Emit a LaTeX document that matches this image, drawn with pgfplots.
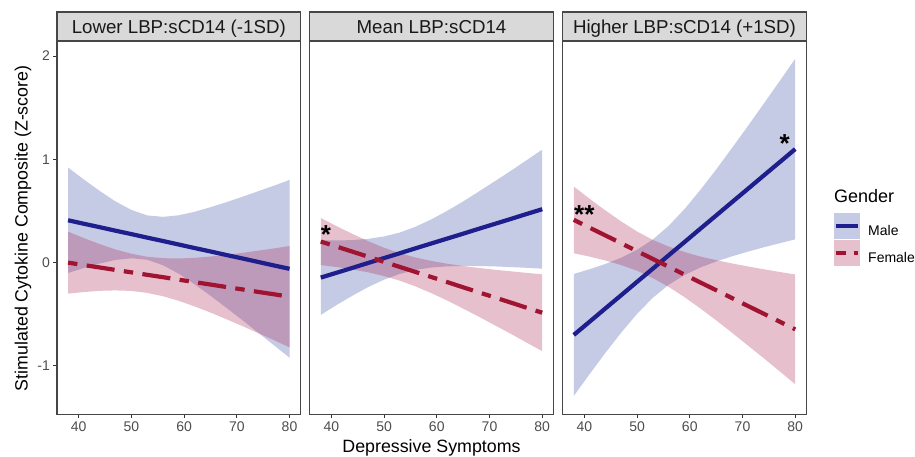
\documentclass[border=0pt]{standalone}
\usepackage{fontspec}
\setmainfont{Liberation Sans}
\usepackage{pgfplots}
\usepackage{pgfplotstable}
\pgfplotsset{compat=1.18}
\usepgfplotslibrary{fillbetween}

\definecolor{maleline}{RGB}{30,30,140}
\definecolor{femline}{RGB}{160,20,50}
\definecolor{malefill}{RGB}{62,78,168}
\definecolor{femfill}{RGB}{172,45,85}
\definecolor{stripgray}{RGB}{217,217,217}
\definecolor{bordergray}{RGB}{70,70,70}
\definecolor{ticktext}{RGB}{77,77,77}

% x = depressive symptoms; m/f = fitted line, u/l = ribbon bounds
\pgfplotstableread{
x  m      mu     ml     f      fu     fl
38  0.410 0.920 -0.100  0.000  0.300 -0.300
41  0.376 0.804 -0.052 -0.024  0.237 -0.285
44  0.343 0.694 -0.008 -0.047  0.179 -0.273
47  0.309 0.592  0.026 -0.071  0.127 -0.269
50  0.276 0.510  0.042 -0.094  0.086 -0.274
53  0.242 0.457  0.028 -0.118  0.057 -0.293
56  0.209 0.443 -0.025 -0.141  0.043 -0.325
59  0.175 0.458 -0.108 -0.165  0.040 -0.370
62  0.141 0.492 -0.210 -0.189  0.046 -0.424
65  0.108 0.536 -0.320 -0.212  0.059 -0.483
68  0.074 0.584 -0.436 -0.236  0.075 -0.547
71  0.041 0.636 -0.554 -0.259  0.094 -0.613
74  0.007 0.690 -0.676 -0.283  0.115 -0.681
77 -0.027 0.744 -0.798 -0.306  0.137 -0.749
80 -0.060 0.800 -0.920 -0.330  0.160 -0.820
}\pone

\pgfplotstableread{
x  m      mu     ml     f      fu     fl
38 -0.145 0.216 -0.506  0.204  0.432 -0.024
41 -0.098 0.214 -0.410  0.155  0.353 -0.043
44 -0.051 0.218 -0.320  0.106  0.278 -0.066
47 -0.003 0.230 -0.236  0.057  0.207 -0.094
50  0.044 0.253 -0.165  0.007  0.144 -0.130
53  0.091 0.291 -0.109 -0.042  0.091 -0.175
56  0.139 0.348 -0.070 -0.091  0.049 -0.231
59  0.186 0.419 -0.047 -0.140  0.016 -0.296
62  0.233 0.502 -0.036 -0.189 -0.011 -0.367
65  0.280 0.592 -0.032 -0.239 -0.033 -0.445
68  0.328 0.689 -0.033 -0.288 -0.052 -0.524
71  0.375 0.787 -0.037 -0.337 -0.069 -0.606
74  0.422 0.887 -0.043 -0.386 -0.084 -0.688
77  0.470 0.990 -0.050 -0.436 -0.099 -0.773
80  0.517 1.093 -0.059 -0.485 -0.113 -0.857
}\ptwo

\pgfplotstableread{
x  m      mu     ml     f      fu     fl
38 -0.700 -0.110 -1.290  0.414  0.737  0.091
41 -0.572 -0.064 -1.079  0.338  0.618  0.058
44 -0.443 -0.013 -0.873  0.263  0.505  0.021
47 -0.315  0.048 -0.677  0.187  0.398 -0.024
50 -0.186  0.124 -0.496  0.111  0.301 -0.079
53 -0.058  0.224 -0.340  0.035  0.220 -0.150
56  0.071  0.356 -0.214 -0.040  0.155 -0.235
59  0.199  0.518 -0.120 -0.116  0.102 -0.334
62  0.328  0.703 -0.047 -0.192  0.059 -0.443
65  0.456  0.901  0.011 -0.267  0.024 -0.558
68  0.585  1.109  0.061 -0.343 -0.008 -0.678
71  0.713  1.320  0.106 -0.419 -0.037 -0.801
74  0.842  1.536  0.148 -0.494 -0.064 -0.924
77  0.970  1.753  0.187 -0.570 -0.090 -1.050
80  1.099  1.973  0.225 -0.646 -0.115 -1.177
}\pthree

\pgfplotsset{
  facet/.style={
    scale only axis, width=243.6pt, height=373.3pt, anchor=south west,
    xmin=35.9, xmax=82.1, ymin=-1.468, ymax=2.145,
    xtick={40,50,60,70,80}, xtick pos=bottom, ytick pos=left,
    tick align=outside, major tick length=3.6pt,
    tick style={draw=black!80, line width=0.9pt},
    axis line style={draw=bordergray, line width=1.1pt},
    tick label style={font=\fontsize{14}{16}\selectfont, text=ticktext},
    /pgf/number format/assume math mode=true,
  },
  helper/.style={draw=none, forget plot},
  mline/.style={maleline, line width=4.2pt, forget plot},
  fline/.style={femline, line width=4.2pt, dash pattern=on 9.4pt off 9.4pt on 28.2pt off 9.4pt, forget plot},
}
\tikzset{astr/.style={font=\fontsize{26}{26}\selectfont\bfseries, anchor=base, inner sep=0pt}}

\begin{document}
\begin{tikzpicture}[x=1pt,y=1pt]

\begin{axis}[facet, at={(57pt,42.7pt)}, ytick={-1,0,1,2}]
\addplot[helper, name path=mu1] table[x=x,y=mu] {\pone};
\addplot[helper, name path=ml1] table[x=x,y=ml] {\pone};
\addplot[helper, name path=fu1] table[x=x,y=fu] {\pone};
\addplot[helper, name path=fl1] table[x=x,y=fl] {\pone};
\addplot[fill=malefill, fill opacity=0.3, draw=none, forget plot] fill between[of=mu1 and ml1];
\addplot[fill=femfill, fill opacity=0.3, draw=none, forget plot] fill between[of=fu1 and fl1];
\addplot[mline] table[x=x,y=m] {\pone};
\addplot[fline] table[x=x,y=f] {\pone};
\end{axis}

\begin{axis}[facet, at={(309.7pt,42.7pt)}, ytick=\empty]
\addplot[helper, name path=mu2] table[x=x,y=mu] {\ptwo};
\addplot[helper, name path=ml2] table[x=x,y=ml] {\ptwo};
\addplot[helper, name path=fu2] table[x=x,y=fu] {\ptwo};
\addplot[helper, name path=fl2] table[x=x,y=fl] {\ptwo};
\addplot[fill=malefill, fill opacity=0.3, draw=none, forget plot] fill between[of=mu2 and ml2];
\addplot[fill=femfill, fill opacity=0.3, draw=none, forget plot] fill between[of=fu2 and fl2];
\addplot[mline] table[x=x,y=m] {\ptwo};
\addplot[fline] table[x=x,y=f] {\ptwo};
\node[astr] at (axis cs:39.0,0.181) {*};
\end{axis}

\begin{axis}[facet, at={(562.7pt,42.7pt)}, ytick=\empty,
  legend style={at={(1.1137,0.5392)}, anchor=north west, draw=none, fill=none,
    inner sep=0pt, outer sep=0pt, row sep=1pt,
    /tikz/every odd column/.append style={column sep=8pt},
    font=\fontsize{14}{16}\selectfont, nodes={inner sep=0pt}},
  legend cell align=left]
\addlegendimage{legend image code/.code={
  \path[fill=malefill, fill opacity=0.3, draw=none] (0pt,-8pt) rectangle (26pt,18pt);
  \draw[maleline, line width=4.2pt] (2pt,5pt) -- (24pt,5pt);}}
\addlegendentry{Male}
\addlegendimage{legend image code/.code={
  \path[fill=femfill, fill opacity=0.3, draw=none] (0pt,-8pt) rectangle (26pt,18pt);
  \draw[femline, line width=4.2pt, dash pattern=on 9.4pt off 8pt on 28.2pt off 9.4pt] (2pt,5pt) -- (24pt,5pt);}}
\addlegendentry{Female}
\addplot[helper, name path=mu3] table[x=x,y=mu] {\pthree};
\addplot[helper, name path=ml3] table[x=x,y=ml] {\pthree};
\addplot[helper, name path=fu3] table[x=x,y=fu] {\pthree};
\addplot[helper, name path=fl3] table[x=x,y=fl] {\pthree};
\addplot[fill=malefill, fill opacity=0.3, draw=none, forget plot] fill between[of=mu3 and ml3];
\addplot[fill=femfill, fill opacity=0.3, draw=none, forget plot] fill between[of=fu3 and fl3];
\addplot[mline] table[x=x,y=m] {\pthree};
\addplot[fline] table[x=x,y=f] {\pthree};
\node[astr] at (axis cs:40.0,0.381) {**};
\node[astr] at (axis cs:78.0,1.067) {*};
\end{axis}

% facet strips
\foreach \xl/\lab in {57/{Lower LBP:sCD14 (-1SD)}, 309.7/{Mean LBP:sCD14}, 562.7/{Higher LBP:sCD14 (+1SD)}} {
  \draw[fill=stripgray, draw=bordergray, line width=1.1pt] (\xl,416) rectangle ++(243.6,29);
  \node[anchor=base, inner sep=0pt, font=\fontsize{18.7}{20}\selectfont, text=black!90] at (\xl+121.8,423.7) {\lab};
}

% axis titles and legend title
\node[anchor=base, inner sep=0pt, font=\fontsize{17.8}{20}\selectfont] at (431.5,4.3) {Depressive Symptoms};
\node[anchor=base, rotate=90, inner sep=0pt, font=\fontsize{17.8}{20}\selectfont] at (27.7,228.7) {Stimulated Cytokine Composite (Z-score)};
\node[anchor=base west, inner sep=0pt, font=\fontsize{18}{20}\selectfont] at (834,254) {Gender};

\pgfresetboundingbox
\useasboundingbox (0,0) rectangle (915,457);
\end{tikzpicture}
\end{document}
